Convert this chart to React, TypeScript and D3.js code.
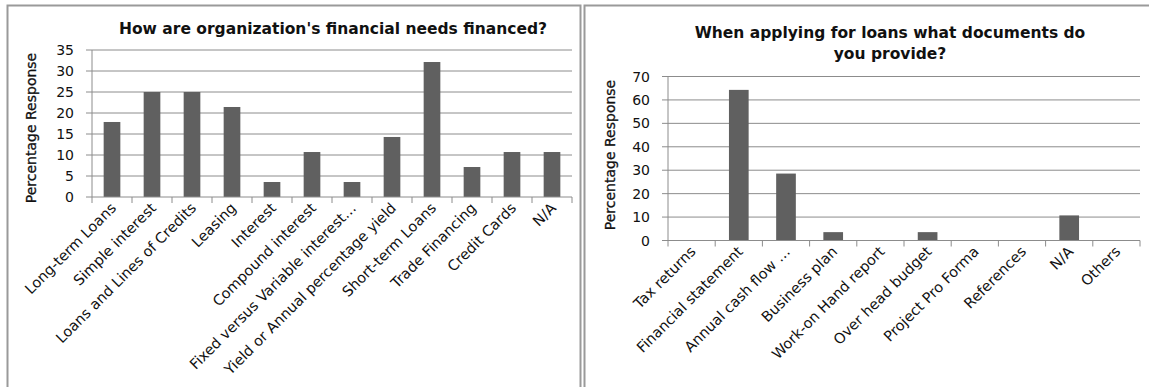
import React from "react";
import * as d3 from "d3";

const leftCategories = [
  "Long-term Loans",
  "Simple interest",
  "Loans and Lines of Credits",
  "Leasing",
  "Interest",
  "Compound interest",
  "Fixed versus Variable interest…",
  "Yield or Annual percentage yield",
  "Short-term Loans",
  "Trade Financing",
  "Credit Cards",
  "N/A",
];
const leftValues = [17.86, 25, 25, 21.43, 3.57, 10.71, 3.57, 14.29, 32.14, 7.14, 10.71, 10.71];
const leftTicks = [0, 5, 10, 15, 20, 25, 30, 35];
const leftTitle = ["How are organization's financial needs financed?"];

const rightCategories = [
  "Tax returns",
  "Financial statement",
  "Annual cash flow …",
  "Business plan",
  "Work-on Hand report",
  "Over head budget",
  "Project Pro Forma",
  "References",
  "N/A",
  "Others",
];
const rightValues = [0, 64.29, 28.57, 3.57, 0, 3.57, 0, 0, 10.71, 0];
const rightTicks = [0, 10, 20, 30, 40, 50, 60, 70];
const rightTitle = ["When applying for loans what documents do", "you provide?"];

const yTitle = "Percentage  Response";

const FONT = "'DejaVu Sans', sans-serif";
const GRID = "#8c8c8c";
const BAR = "#606060";

type PanelProps = {
  cats: string[];
  vals: number[];
  ticks: number[];
  title: string[];
  x0: number;
  x1: number;
  y0: number;
  y1: number;
  yMax: number;
  titleX: number;
  titleY: number;
  yTitleX: number;
  yTitleY: number;
};

function Panel(p: PanelProps) {
  const x = d3.scaleBand<string>().domain(p.cats).range([p.x0, p.x1]).paddingInner(0.583).paddingOuter(0.2915);
  const band = d3.scaleBand<string>().domain(p.cats).range([p.x0, p.x1]);
  const y = d3.scaleLinear().domain([0, p.yMax]).range([p.y0, p.y1]);
  const boundaries = p.cats.map((c) => band(c) as number).concat([p.x1]);
  return (
    <g>
      {p.title.map((t, i) => (
        <text key={i} x={p.titleX} y={p.titleY + i * 21} textAnchor="middle" fontFamily={FONT} fontWeight="bold" fontSize={15.5} fill="#111">
          {t}
        </text>
      ))}
      <text
        transform={`translate(${p.yTitleX},${p.yTitleY}) rotate(-90)`}
        textAnchor="middle"
        fontFamily={FONT}
        fontSize={14}
        fill="#111"
        stroke="#111"
        strokeWidth={0.3}
      >
        {yTitle}
      </text>
      {p.ticks.map((t) => (
        <g key={t}>
          {t > 0 && <line x1={p.x0} x2={p.x1} y1={y(t)} y2={y(t)} stroke={GRID} strokeWidth={1} />}
          <line x1={p.x0 - 6} x2={p.x0} y1={y(t)} y2={y(t)} stroke={GRID} strokeWidth={1} />
          <text x={p.x0 - 18} y={y(t)} dy="0.36em" textAnchor="end" fontFamily={FONT} fontSize={14} fill="#111">
            {t}
          </text>
        </g>
      ))}
      {p.cats.map((c, i) => (
        <rect key={c} x={x(c)} y={y(p.vals[i])} width={x.bandwidth()} height={y(0) - y(p.vals[i])} fill={BAR} />
      ))}
      <line x1={p.x0} x2={p.x0} y1={y(p.yMax)} y2={y(0)} stroke={GRID} strokeWidth={1} />
      <line x1={p.x0} x2={p.x1} y1={y(0)} y2={y(0)} stroke={GRID} strokeWidth={1} />
      {boundaries.map((bx, i) => (
        <line key={i} x1={bx} x2={bx} y1={y(0)} y2={y(0) + 6} stroke={GRID} strokeWidth={1} />
      ))}
      {p.cats.map((c) => {
        const cx = (band(c) as number) + band.bandwidth() / 2;
        return (
          <text
            key={c}
            transform={`translate(${cx + 5},${y(0) + 12}) rotate(-45)`}
            textAnchor="end"
            fontFamily={FONT}
            fontSize={14.5}
            fill="#111"
          >
            {c}
          </text>
        );
      })}
    </g>
  );
}

export default function App() {
  return (
    <svg width={1149} height={387} style={{ position: "absolute", left: 0, top: 0, background: "#fff" }}>
      <rect x={0} y={0} width={1149} height={387} fill="#fff" />
      <path d="M7.5,400 V5.5 H580.5 V400" fill="none" stroke="#9a9a9a" strokeWidth={2} />
      <path d="M584.5,400 V5.5 H1160" fill="none" stroke="#9a9a9a" strokeWidth={2} />
      <Panel
        cats={leftCategories}
        vals={leftValues}
        ticks={leftTicks}
        title={leftTitle}
        x0={92}
        x1={572}
        y0={197}
        y1={50}
        yMax={35}
        titleX={333}
        titleY={34}
        yTitleX={36}
        yTitleY={128}
      />
      <Panel
        cats={rightCategories}
        vals={rightValues}
        ticks={rightTicks}
        title={rightTitle}
        x0={668}
        x1={1140}
        y0={240.5}
        y1={76.5}
        yMax={70}
        titleX={890}
        titleY={38}
        yTitleX={615}
        yTitleY={155}
      />
    </svg>
  );
}
